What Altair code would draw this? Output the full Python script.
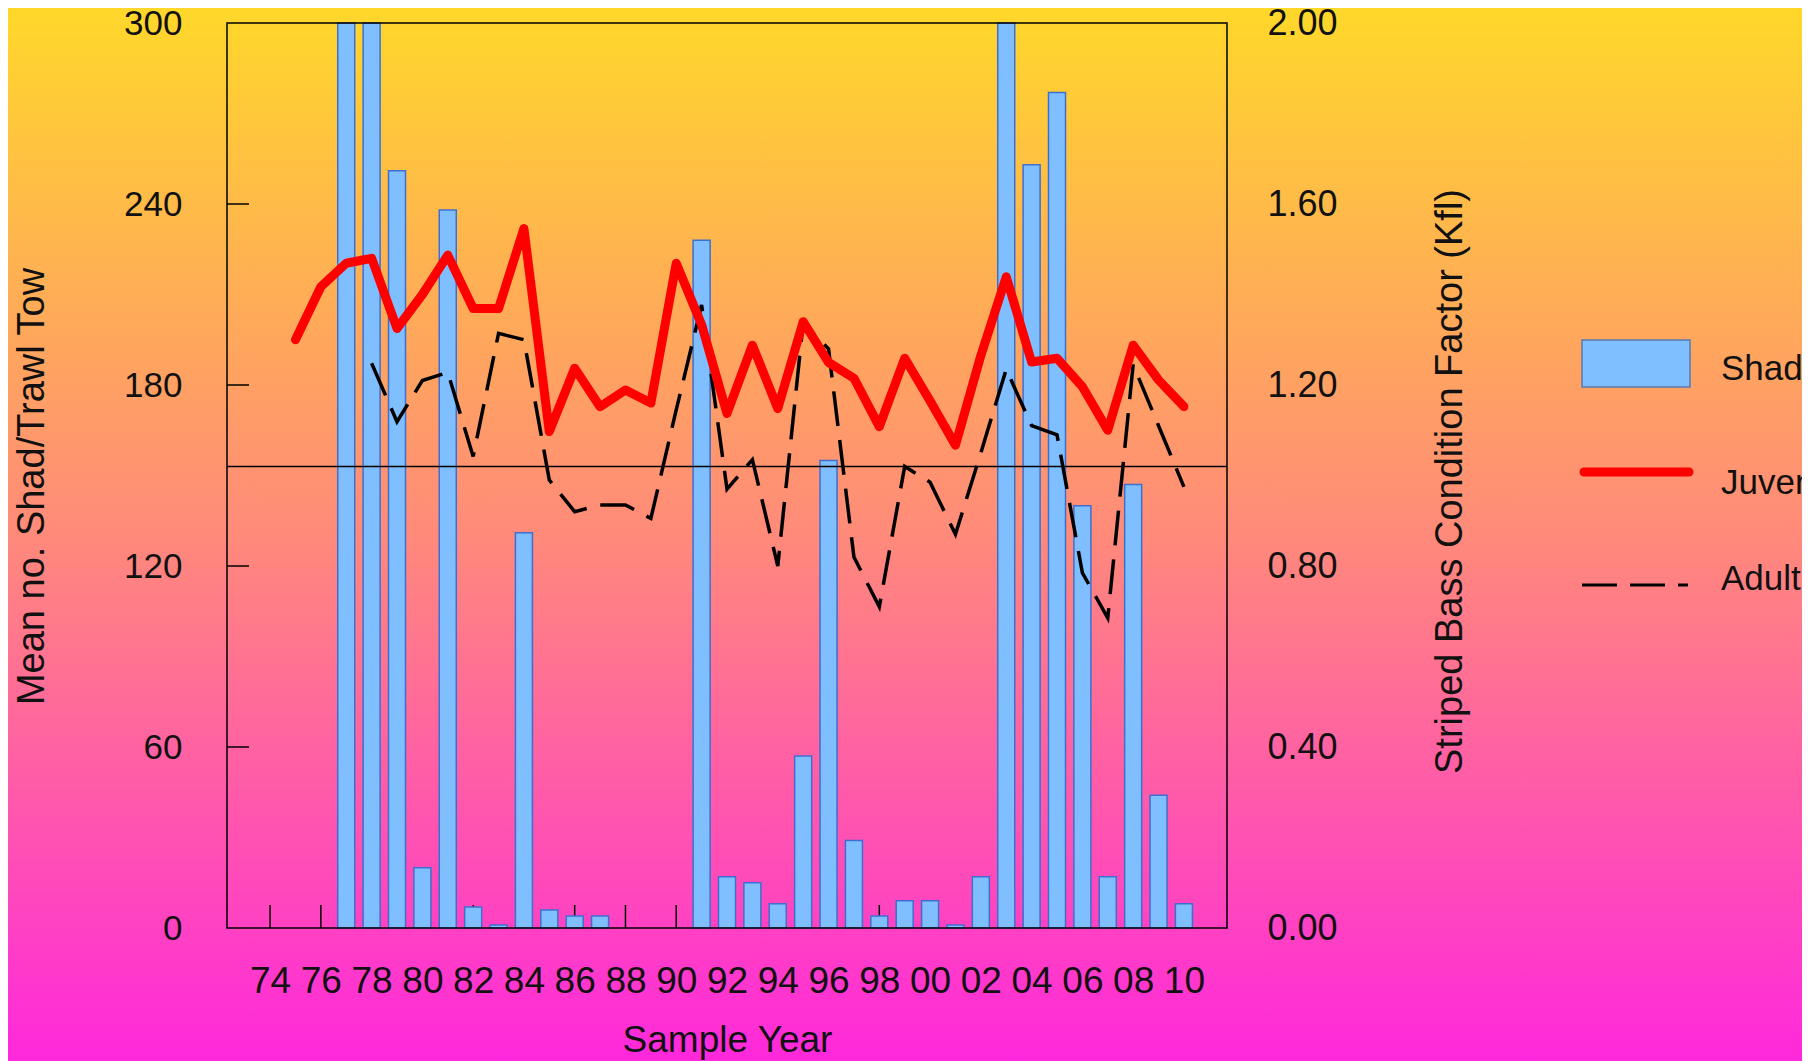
import altair as alt
import pandas as pd

# ---------------- data ----------------
years = list(range(1974, 2011))
shad = [None, None, None, 300, 300, 251, 20, 238, 7, 1, 131, 6, 4, 4,
        None, None, None, 228, 17, 15, 8, 57, 155, 29, 4, 9, 9, 1, 17,
        300, 253, 277, 140, 17, 147, 44, 8]
juvenile = [None,
            1.30, 1.417, 1.469, 1.48, 1.325, 1.40, 1.487, 1.369, 1.369, 1.546,
            1.097, 1.237, 1.152, 1.189, 1.16, 1.469, 1.333, 1.137, 1.288, 1.148,
            1.34, 1.25, 1.215, 1.108, 1.259, 1.165, 1.067, 1.265, 1.439, 1.251,
            1.259, 1.196, 1.10, 1.288, 1.211, 1.152]
adult = [None, None, None, None,
         1.248, 1.119, 1.21, 1.228, 1.042, 1.314, 1.30, 0.99, 0.92, 0.935,
         0.935, 0.905, 1.145, 1.377, 0.97, 1.035, 0.80, 1.337, 1.28, 0.82,
         0.71, 1.02, 0.985, 0.87, 1.05, 1.235, 1.11, 1.09, 0.785, 0.685,
         1.245, 1.11, 0.975]
reference_k = [1.02]
tick_years = list(range(1974, 2011, 2))
left_ticks = [0, 60, 120, 180, 240, 300]
right_ticks = [0.0, 0.4, 0.8, 1.2, 1.6, 2.0]
legend_labels = ["Shad", "Juvenile Striped Bass", "Adult Striped Bass"]

df = pd.DataFrame({"year": years, "shad": shad, "juv": juvenile, "adult": adult})
shad_df = df.dropna(subset=["shad"])
juv_df = df.dropna(subset=["juv"])
adult_df = df.dropna(subset=["adult"])
ticks_df = pd.DataFrame({"year": tick_years})
lticks_df = pd.DataFrame({"v": left_ticks[1:-1]})
ref_df = pd.DataFrame({"k": reference_k})
one = pd.DataFrame({"a": [0]})

# ---------------- layout ----------------
W, H = 1000, 905
PAD = {"left": 219, "top": 15, "right": 575, "bottom": 133}
FONT = "Liberation Sans"
TXT = "#111111"

x_scale = alt.Scale(domain=[1972.5, 2011.5], nice=False, zero=False)
yl_scale = alt.Scale(domain=[0, 300], nice=False)
yr_scale = alt.Scale(domain=[0, 2], nice=False)

x_axis = alt.Axis(values=tick_years, labelExpr="slice(toString(datum.value), 2)",
                  title="Sample Year", ticks=False, domain=False, grid=False,
                  labelPadding=35, labelFontSize=37,
                  labelFont="Liberation Sans Narrow, Arial Narrow, Liberation Sans",
                  labelColor=TXT, labelFlush=False, labelOverlap=False,
                  titleFont=FONT, titleFontSize=37, titleFontWeight="normal",
                  titleColor=TXT, titleY=123, titleBaseline="alphabetic", zindex=1)
yl_axis = alt.Axis(values=left_ticks, title="Mean no.  Shad/Trawl Tow", orient="left",
                   ticks=False, domain=False, grid=False, labelPadding=45,
                   labelFontSize=35, labelFont=FONT, labelColor=TXT, labelOverlap=False,
                   titleFont=FONT, titleFontSize=38, titleFontWeight="normal",
                   titleColor=TXT, titleAngle=270, titleX=-195, titleY=463,
                   titleBaseline="middle", titleAlign="center", zindex=1)
yr_axis = alt.Axis(values=right_ticks, format=".2f",
                   title="Striped Bass Condition Factor (Kfl)", orient="right",
                   ticks=False, domain=False, grid=False, labelPadding=40,
                   labelFontSize=36, labelFont=FONT, labelColor=TXT, labelOverlap=False,
                   titleFont=FONT, titleFontSize=38, titleFontWeight="normal",
                   titleColor=TXT, titleAngle=270, titleX=223, titleY=458,
                   titleBaseline="middle", titleAlign="center", zindex=1)

gradient = alt.LinearGradient(
    gradient="linear",
    stops=[alt.GradientStop(color="#FFD82A", offset=0),
           alt.GradientStop(color="#FF8A7A", offset=0.5),
           alt.GradientStop(color="#FF28DC", offset=1)],
    x1=0, x2=0, y1=0, y2=1)

bg = alt.Chart(one).mark_rect(fill=gradient, strokeWidth=0).encode(
    x=alt.value(-PAD["left"]), x2=alt.value(W + PAD["right"]),
    y=alt.value(-PAD["top"]), y2=alt.value(H + PAD["bottom"]))

frame = alt.Chart(one).mark_rect(fillOpacity=0, stroke="black", strokeWidth=1.5).encode(
    x=alt.value(0), x2=alt.value(W), y=alt.value(0), y2=alt.value(H))

xticks = alt.Chart(ticks_df).mark_rule(color="black", strokeWidth=1.5).encode(
    x=alt.X("year:Q", scale=x_scale, axis=x_axis),
    y=alt.value(H), y2=alt.value(H - 23))

yticks = alt.Chart(lticks_df).mark_rule(color="black", strokeWidth=1.5).encode(
    y=alt.Y("v:Q", scale=yl_scale, axis=yl_axis),
    x=alt.value(0), x2=alt.value(22))

bars = alt.Chart(shad_df).mark_bar(width=17, fill="#80BFFF", stroke="#3E6FD0",
                                    strokeWidth=1.5).encode(
    x=alt.X("year:Q", scale=x_scale, axis=x_axis),
    y=alt.Y("shad:Q", scale=yl_scale, axis=yl_axis))

left = alt.layer(bg, xticks, yticks, bars, frame)

ref = alt.Chart(ref_df).mark_rule(color="black", strokeWidth=1.5).encode(
    y=alt.Y("k:Q", scale=yr_scale, axis=yr_axis),
    x=alt.value(0), x2=alt.value(W))

adult_line = alt.Chart(adult_df).mark_line(color="black", strokeWidth=3.5,
                                           strokeDash=[35, 14]).encode(
    x=alt.X("year:Q", scale=x_scale, axis=x_axis),
    y=alt.Y("adult:Q", scale=yr_scale, axis=yr_axis))

juv_line = alt.Chart(juv_df).mark_line(color="#FF0000", strokeWidth=9,
                                       strokeJoin="round", strokeCap="round").encode(
    x=alt.X("year:Q", scale=x_scale, axis=x_axis),
    y=alt.Y("juv:Q", scale=yr_scale, axis=yr_axis))

# ---------------- legend (drawn by hand) ----------------
lg_box = alt.Chart(one).mark_rect(fill="#80BFFF", stroke="#5A78B0", strokeWidth=1.5).encode(
    x=alt.value(1355), x2=alt.value(1463), y=alt.value(317), y2=alt.value(364))
lg_red = alt.Chart(one).mark_rule(color="#FF0000", strokeWidth=9, strokeCap="round").encode(
    x=alt.value(1357), x2=alt.value(1462), y=alt.value(449))
lg_dash = alt.Chart(one).mark_rule(color="black", strokeWidth=3, strokeDash=[35, 13]).encode(
    x=alt.value(1355), x2=alt.value(1461), y=alt.value(562))
lg_texts = [
    alt.Chart(one).mark_text(align="left", baseline="middle", fontSize=35, font=FONT,
                             color=TXT).encode(
        x=alt.value(1494), y=alt.value(yy), text=alt.value(lab))
    for lab, yy in zip(legend_labels, [346, 460, 556])
]

right = alt.layer(ref, adult_line, juv_line, lg_box, lg_red, lg_dash, *lg_texts)

chart = alt.layer(left, right).resolve_scale(y="independent").properties(
    width=W, height=H,
    autosize=alt.AutoSizeParams(type="none"),
    padding=PAD,
).configure_view(strokeOpacity=0).configure(background="#FF8A7A")

chart.save("out.html", embed_options={"renderer": "svg", "actions": False})
